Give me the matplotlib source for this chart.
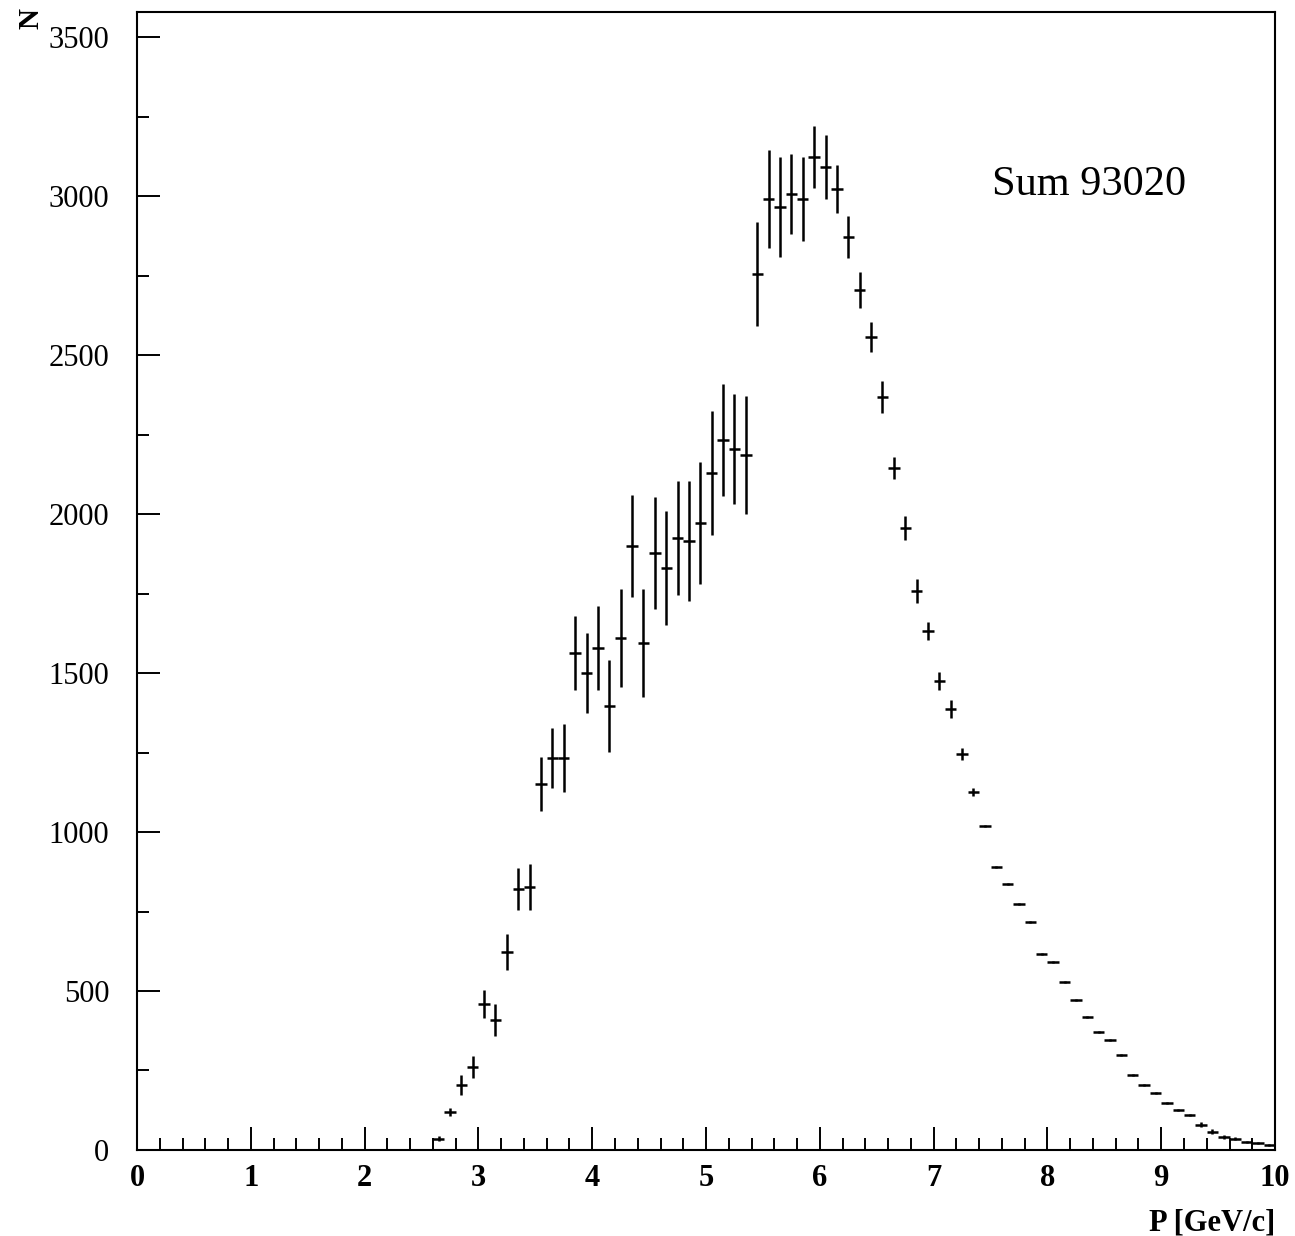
import numpy as np
import matplotlib.pyplot as plt
from matplotlib.ticker import MultipleLocator

# bin centres [GeV/c], counts and errors
p = [2.65, 2.75, 2.85, 2.95, 3.05, 3.15, 3.25, 3.35, 3.45, 3.55,
     3.65, 3.75, 3.85, 3.95, 4.05, 4.15, 4.25, 4.35, 4.45, 4.55,
     4.65, 4.75, 4.85, 4.95, 5.05, 5.15, 5.25, 5.35, 5.45, 5.55,
     5.65, 5.75, 5.85, 5.95, 6.05, 6.15, 6.25, 6.35, 6.45, 6.55,
     6.65, 6.75, 6.85, 6.95, 7.05, 7.15, 7.25, 7.35, 7.45, 7.55,
     7.65, 7.75, 7.85, 7.95, 8.05, 8.15, 8.25, 8.35, 8.45, 8.55,
     8.65, 8.75, 8.85, 8.95, 9.05, 9.15, 9.25, 9.35, 9.45, 9.55,
     9.65, 9.75, 9.85, 9.95]
n = [35, 120, 204, 261, 459, 409, 623, 821, 828, 1151,
     1233, 1233, 1563, 1500, 1579, 1396, 1610, 1900, 1594, 1877,
     1830, 1925, 1915, 1972, 2129, 2233, 2205, 2186, 2755, 2991,
     2966, 3007, 2991, 3123, 3092, 3022, 2871, 2705, 2557, 2368,
     2145, 1956, 1758, 1632, 1475, 1387, 1245, 1126, 1019, 890,
     837, 774, 717, 616, 591, 528, 472, 418, 371, 346,
     299, 236, 204, 179, 148, 126, 110, 79, 57, 41,
     35, 25, 22, 16]
err = [8, 13, 31, 35, 44, 50, 57, 66, 72, 85,
       94, 107, 116, 126, 132, 145, 154, 160, 170, 176,
       179, 179, 189, 192, 195, 176, 173, 186, 164, 154,
       157, 126, 132, 97, 101, 75, 66, 57, 47, 50,
       35, 38, 38, 28, 28, 28, 19, 13, 3, 3,
       3, 3, 3, 3, 3, 3, 3, 3, 3, 3,
       3, 3, 3, 3, 3, 3, 3, 8, 8, 6,
       5, 4, 4, 3]
half_bin = 0.05

serif = ["Liberation Serif", "DejaVu Serif"]
plt.rcParams["font.family"] = serif

fig = plt.figure(figsize=(12.95, 12.36), dpi=100)
ax = fig.add_axes([0.1058, 0.0696, 0.8788, 0.9207])

ax.errorbar(p, n, yerr=err, xerr=half_bin, fmt="none",
            ecolor="black", elinewidth=1.8, capsize=0)

ax.set_xlim(0, 10)
ax.set_ylim(0, 3579)

ax.xaxis.set_major_locator(MultipleLocator(1))
ax.xaxis.set_minor_locator(MultipleLocator(0.2))
ax.yaxis.set_major_locator(MultipleLocator(500))
ax.yaxis.set_minor_locator(MultipleLocator(250))

ax.tick_params(which="both", direction="in", top=False, right=False,
               width=1.4, colors="black")
ax.tick_params(which="major", length=16.5)
ax.tick_params(which="minor", length=8.6)
ax.tick_params(axis="x", pad=10, labelsize=22)
ax.tick_params(axis="y", pad=20, labelsize=22)
for lab in ax.get_xticklabels():
    lab.set_fontweight("bold")

for s in ax.spines.values():
    s.set_linewidth(1.5)

ax.text(1.0, -0.064, "P [GeV/c]", transform=ax.transAxes, ha="right",
        va="center", fontsize=22, fontweight="bold")
fig.text(0.024, 0.985, "N", rotation=90, ha="center", va="center",
         fontsize=21, fontweight="bold")

ax.text(0.751, 0.839, "Sum 93020", transform=ax.transAxes, ha="left",
        va="baseline", fontsize=30.5)

fig.savefig("out.png", dpi=100)
